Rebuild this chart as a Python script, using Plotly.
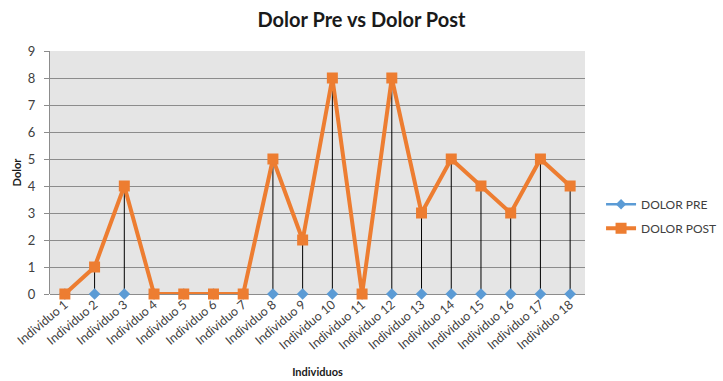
import plotly.graph_objects as go

categories = [f"Individuo {i}" for i in range(1, 19)]
dolor_pre = [0] * 18
dolor_post = [0, 1, 4, 0, 0, 0, 0, 5, 2, 8, 0, 8, 3, 5, 4, 3, 5, 4]

BLUE = "#5B9BD5"
ORANGE = "#ED7D31"
FONT = "Lato"

# drop lines between pre and post
dx, dy = [], []
for c, a, b in zip(categories, dolor_pre, dolor_post):
    if a != b:
        dx += [c, c, None]
        dy += [a, b, None]

fig = go.Figure()
fig.add_trace(go.Scatter(x=dx, y=dy, mode="lines", line=dict(color="black", width=1),
                         showlegend=False, hoverinfo="skip", cliponaxis=False))
fig.add_trace(go.Scatter(x=categories, y=dolor_pre, mode="markers", name="DOLOR PRE",
                         marker=dict(symbol="diamond", size=9, color=BLUE),
                         showlegend=False, cliponaxis=False))
fig.add_trace(go.Scatter(x=[None], y=[None], mode="lines+markers", name="DOLOR PRE",
                         legendgroup="pre",
                         line=dict(color=BLUE, width=2.5),
                         marker=dict(symbol="diamond", size=8, color=BLUE)))
fig.add_trace(go.Scatter(x=categories, y=dolor_post, mode="lines+markers", name="DOLOR POST",
                         legendgroup="post",
                         line=dict(color=ORANGE, width=4),
                         marker=dict(symbol="square", size=11, color=ORANGE),
                         cliponaxis=False))

fig.update_layout(
    width=723, height=381,
    margin=dict(l=50, r=138, t=51, b=87, autoexpand=False),
    paper_bgcolor="white",
    plot_bgcolor="#e5e5e5",
    font=dict(family=FONT, color="#404040", size=12),
    title=dict(text="<b>Dolor Pre vs Dolor Post</b>", x=0.5, xref="container",
               xanchor="center", y=0.947, yanchor="middle",
               font=dict(family=FONT, size=20, color="#1a1a1a")),
    legend=dict(x=1.03, y=0.32, xanchor="left", yanchor="middle",
                traceorder="grouped", tracegroupgap=5,
                font=dict(family=FONT, size=12, color="#404040"),
                bgcolor="rgba(0,0,0,0)", itemwidth=30),
    xaxis=dict(
        type="category", categoryorder="array", categoryarray=categories,
        range=[-0.5, 17.5], tickangle=-40,
        showgrid=False, showline=False, ticks="",
        tickfont=dict(family=FONT, size=12.5, color="#404040"),
        title=dict(text="<b>Individuos</b>", font=dict(family=FONT, size=11, color="#1a1a1a"),
                   standoff=16),
    ),
    yaxis=dict(
        range=[0, 9], dtick=1, showgrid=True, gridcolor="#8c8c8c", gridwidth=1,
        showline=True, linecolor="#8c8c8c", linewidth=1,
        ticks="outside", ticklen=5, tickcolor="#8c8c8c",
        zeroline=True, zerolinecolor="#8c8c8c", zerolinewidth=1,
        tickfont=dict(family=FONT, size=13, color="#404040"),
        ticklabelstandoff=6,
        title=dict(text="<b>Dolor</b>", font=dict(family=FONT, size=11, color="#1a1a1a"),
                   standoff=4),
    ),
)

fig.write_html("out.html")
